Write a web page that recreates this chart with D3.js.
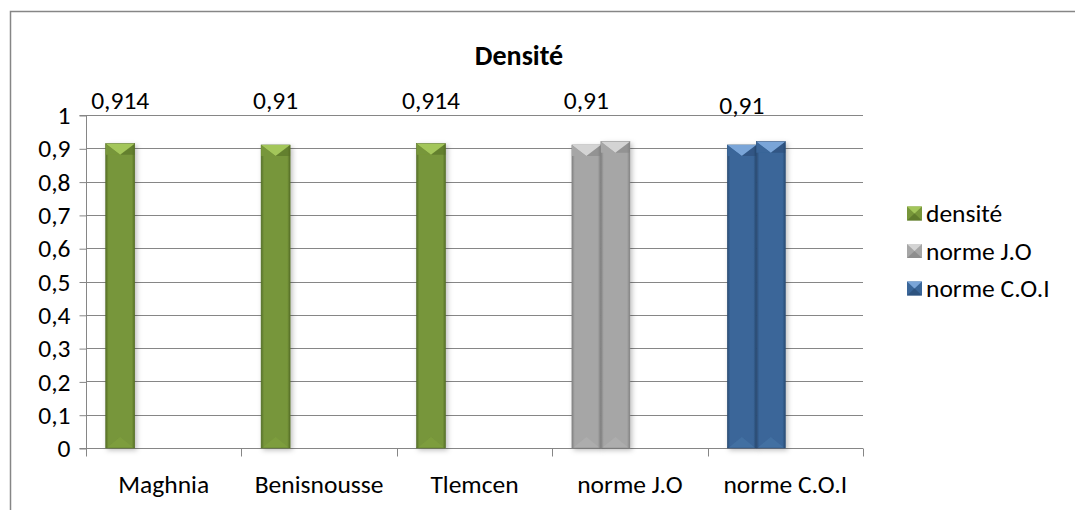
<!DOCTYPE html>
<html><head><meta charset="utf-8">
<script src="https://cdn.jsdelivr.net/npm/d3@7"></script>
<style>
html,body{margin:0;padding:0;background:#fff;}
text{font-family:Carlito,Calibri,Lato,"Open Sans",sans-serif;fill:#000;}
</style></head>
<body><svg id="c" width="1075" height="510"></svg>
<script>
const title = "Densité";
const categories = ["Maghnia","Benisnousse","Tlemcen","norme J.O","norme C.O.I"];
const seriesNames = ["densité","norme J.O","norme C.O.I"];
const firstValues = [0.914, 0.91, 0.914, 0.91, 0.91];   // labelled bars (slot 1)
const secondValues = [null, null, null, 0.92, 0.92];      // second bars (slot 2)
const barSeries = [0, 0, 0, 1, 2];                        // legend series used for colour
const dataLabels = ["0,914","0,91","0,914","0,91","0,91"];
const yTicks = [0,0.1,0.2,0.3,0.4,0.5,0.6,0.7,0.8,0.9,1];

const palette = [
  {base:"#77963a", light:"#a3c65a", dark:"#566f27"},
  {base:"#a6a6a6", light:"#d4d4d4", dark:"#838383"},
  {base:"#3a6699", light:"#7aa5d8", dark:"#294b74"}
];

const FS = 25.5;
const svg = d3.select("#c");
const W=1075,H=510;
const L=86, R=863, T=115, B=448;

// chart border
svg.append("path").attr("d",`M10.5,${H} L10.5,11.5 L${W},11.5`).attr("fill","none").attr("stroke","#868686").attr("stroke-width",1.5);

const x = d3.scaleBand().domain(categories).range([L,R]).paddingInner(0).paddingOuter(0);
const y = d3.scaleLinear().domain([0,1]).range([B,T]);
const slots = d3.scaleBand().domain([0,1,2,3]).range([0,x.bandwidth()]).paddingInner(0).paddingOuter(0.68);

const defs = svg.append("defs");
palette.forEach((p,i)=>{
  const g = defs.append("linearGradient").attr("id","g"+i).attr("x1","0").attr("x2","1").attr("y1","0").attr("y2","0");
  g.append("stop").attr("offset","0").attr("stop-color",p.dark);
  g.append("stop").attr("offset","0.1").attr("stop-color",p.base);
  g.append("stop").attr("offset","0.9").attr("stop-color",p.base);
  g.append("stop").attr("offset","1").attr("stop-color",p.dark);
});
const f = defs.append("filter").attr("id","sh").attr("x","-20%").attr("y","-10%").attr("width","160%").attr("height","130%");
f.append("feDropShadow").attr("dx",2).attr("dy",2).attr("stdDeviation",2.5).attr("flood-color","#000").attr("flood-opacity",0.25);

// gridlines
svg.append("g").selectAll("line").data(yTicks.slice(1)).join("line")
  .attr("x1",L).attr("x2",R).attr("y1",d=>Math.round(y(d))+0.5).attr("y2",d=>Math.round(y(d))+0.5)
  .attr("stroke","#868686").attr("stroke-width",1);

// y axis
const yAxis = d3.axisLeft(y).tickValues(yTicks).tickSize(7).tickPadding(9)
  .tickFormat(d=>d3.format(".1~f")(d).replace(".",","));
const ya = svg.append("g").attr("transform",`translate(${L+0.5},0.5)`).call(yAxis);
ya.select(".domain").attr("stroke","#868686").attr("d",`M-7,${Math.round(y(1))}H0V${Math.round(y(0))}H-7`);
ya.selectAll(".tick line").attr("stroke","#868686");
ya.selectAll(".tick text").attr("font-size",FS).attr("font-family","Carlito,Calibri,Lato,sans-serif").attr("fill","#000");

// x axis
const xa = svg.append("g").attr("transform",`translate(0,${Math.round(y(0))+0.5})`);
xa.append("line").attr("x1",L).attr("x2",R).attr("stroke","#868686");
const bounds = categories.map(c=>x(c)).concat([R]);
xa.selectAll("line.t").data(bounds).join("line").attr("class","t")
  .attr("x1",d=>Math.round(d)+0.5).attr("x2",d=>Math.round(d)+0.5).attr("y1",0).attr("y2",8).attr("stroke","#868686");
xa.selectAll("text").data(categories).join("text")
  .attr("x",d=>x(d)+x.bandwidth()/2).attr("y",44).attr("text-anchor","middle").attr("font-size",FS).text(d=>d);

// bars
function drawBar(g, cx0, w, v, ci){
  const p = palette[ci];
  const top = y(v), bot = y(0), h = bot-top;
  const grp = g.append("g").attr("filter","url(#sh)");
  grp.append("rect").attr("x",cx0).attr("y",top).attr("width",w).attr("height",h).attr("fill",`url(#g${ci})`)
    .attr("stroke",p.dark).attr("stroke-width",0.6);
  const bh = 11;
  grp.append("path").attr("d",`M${cx0},${top} L${cx0+w/2},${top+bh} L${cx0+w},${top} Z`).attr("fill",p.light);
  grp.append("path").attr("d",`M${cx0},${top} L${cx0+w/2},${top+bh} L${cx0},${top+bh} Z`).attr("fill",p.base);
  grp.append("path").attr("d",`M${cx0+w},${top} L${cx0+w/2},${top+bh} L${cx0+w},${top+bh} Z`).attr("fill",p.dark).attr("opacity",0.55);
  grp.append("path").attr("d",`M${cx0+1},${bot} L${cx0+w/2},${bot-bh} L${cx0+w-1},${bot} Z`).attr("fill",p.light).attr("opacity",0.15);
}
const bars = svg.append("g");
categories.forEach((c,i)=>{
  if(firstValues[i]!=null) drawBar(bars, x(c)+slots(0), slots.bandwidth(), firstValues[i], barSeries[i]);
  if(secondValues[i]!=null) drawBar(bars, x(c)+slots(1), slots.bandwidth(), secondValues[i], barSeries[i]);
});

// data labels
const labelY = [100,100,100,100,105];
svg.append("g").selectAll("text").data(categories).join("text")
  .attr("x",(d)=>x(d)+slots(0)+slots.bandwidth()/2).attr("y",(d,i)=>labelY[i]+9)
  .attr("text-anchor","middle").attr("font-size",FS).text((d,i)=>dataLabels[i]);

// title
svg.append("text").attr("x",519).attr("y",65).attr("text-anchor","middle").attr("font-size",28).attr("font-weight","bold").text(title);

// legend
const lg = svg.append("g");
seriesNames.forEach((s,i)=>{
  const yy = 213 + i*37.5;
  const p = palette[i];
  const g = lg.append("g");
  g.append("rect").attr("x",907).attr("y",yy-6.5).attr("width",15).attr("height",14).attr("fill",p.base);
  g.append("path").attr("d",`M907,${yy-6.5} L914.5,${yy+0.5} L922,${yy-6.5} Z`).attr("fill",p.light);
  g.append("path").attr("d",`M907,${yy+7.5} L914.5,${yy+0.5} L922,${yy+7.5} Z`).attr("fill",p.dark).attr("opacity",0.7);
  g.append("text").attr("x",926).attr("y",yy+9).attr("font-size",FS).text(s);
});
</script></body></html>
